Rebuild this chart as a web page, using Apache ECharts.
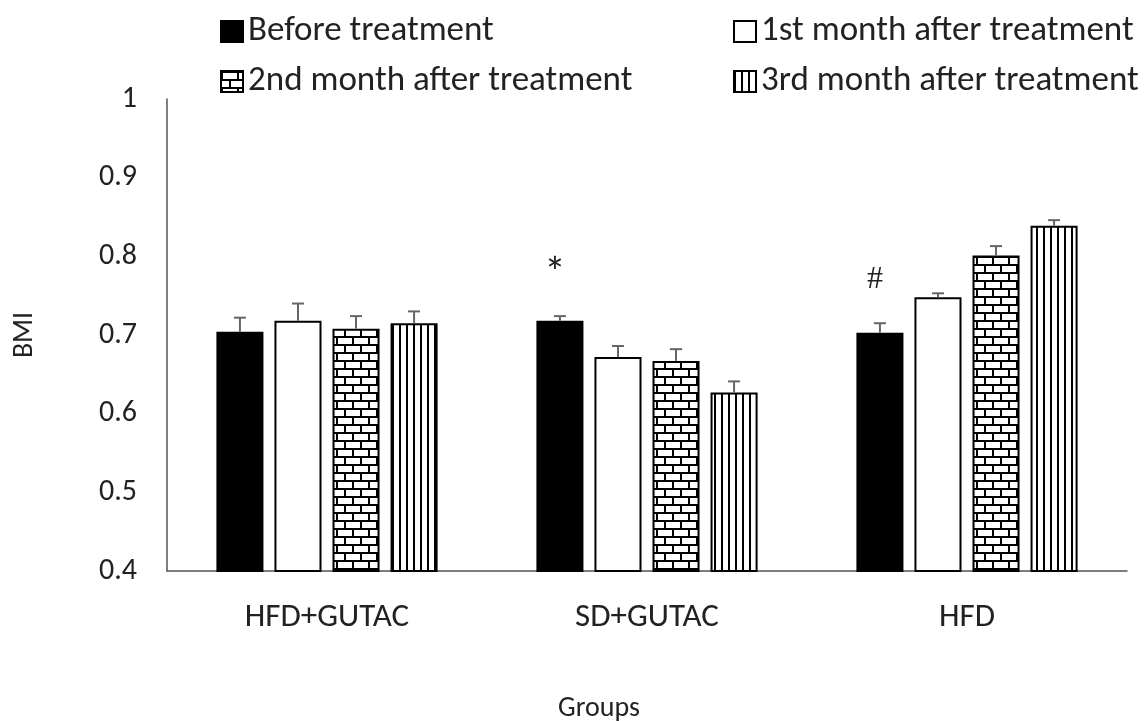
<!DOCTYPE html>
<html>
<head>
<meta charset="utf-8">
<title>BMI by group</title>
<script src="https://cdn.jsdelivr.net/npm/echarts@6/dist/echarts.min.js"></script>
<style>
    html, body { margin: 0; padding: 0; background: #fff; }
    #chart { width: 1144px; height: 721px; }
</style>
</head>
<body>
<div id="chart"></div>
<script>
    // Data
    const groups = ['HFD+GUTAC', 'SD+GUTAC', 'HFD'];
    const seriesNames = ['Before treatment', '1st month after treatment', '2nd month after treatment', '3rd month after treatment'];
    const beforeVals = [0.704, 0.718, 0.703];
    const month1Vals = [0.718, 0.672, 0.748];
    const month2Vals = [0.708, 0.667, 0.801];
    const month3Vals = [0.715, 0.627, 0.839];
    const beforeErr = [0.018, 0.006, 0.012];
    const month1Err = [0.022, 0.014, 0.005];
    const month2Err = [0.016, 0.015, 0.012];
    const month3Err = [0.015, 0.014, 0.007];
    const markText = ['', '*', '#'];
    const markY = [null, 0.775, 0.77];
    const yTicks = [0.4, 0.5, 0.6, 0.7, 0.8, 0.9, 1];

    const BAR_RATIO = 0.147;
    const BAR_GAP = 0.234;
    const FONT = "Carlito, 'Open Sans', sans-serif";

    /**
     * Brick fill like the spreadsheet pattern
     */
    function brickPattern() {
        const c = document.createElement('canvas');
        c.width = 16; c.height = 16;
        const ctx = c.getContext('2d');
        ctx.fillStyle = '#fff';
        ctx.fillRect(0, 0, 16, 16);
        ctx.fillStyle = '#000';
        ctx.fillRect(0, 0, 16, 2);
        ctx.fillRect(0, 8, 16, 2);
        ctx.fillRect(0, 2, 2, 6);
        ctx.fillRect(8, 10, 2, 6);
        return c;
    }

    /**
     * Vertical stripes fill
     */
    function stripePattern() {
        const c = document.createElement('canvas');
        c.width = 7; c.height = 4;
        const ctx = c.getContext('2d');
        ctx.fillStyle = '#fff';
        ctx.fillRect(0, 0, 7, 4);
        ctx.fillStyle = '#000';
        ctx.fillRect(0, 0, 2, 4);
        return c;
    }

    const fills = [
        '#000',
        '#fff',
        { image: brickPattern(), repeat: 'repeat' },
        { image: stripePattern(), repeat: 'repeat' }
    ];
    const allVals = [beforeVals, month1Vals, month2Vals, month3Vals];
    const allErr = [beforeErr, month1Err, month2Err, month3Err];

    // error bar rows: [category, series, value, err]
    const errData = [];
    allVals.forEach((vals, s) => {
        vals.forEach((v, i) => errData.push([i, s, v, allErr[s][i]]));
    });
    const markData = [];
    markText.forEach((t, i) => { if (t) markData.push([i, markY[i], t]); });

    function barOffset(api, s) {
        const band = api.size([1, 0])[0];
        const w = band * BAR_RATIO;
        return (s - 1.5) * w * (1 + BAR_GAP);
    }

    function renderErr(params, api) {
        const cat = api.value(0);
        const s = api.value(1);
        const v = api.value(2);
        const e = api.value(3);
        const base = api.coord([cat, v]);
        const top = api.coord([cat, v + e]);
        const x = base[0] + barOffset(api, s);
        const style = { stroke: '#666', lineWidth: 2 };
        return {
            type: 'group',
            children: [
                { type: 'line', shape: { x1: x, y1: base[1], x2: x, y2: top[1] }, style: style },
                { type: 'line', shape: { x1: x - 6, y1: top[1], x2: x + 6, y2: top[1] }, style: style }
            ]
        };
    }

    function renderMark(params, api) {
        const p = api.coord([api.value(0), api.value(1)]);
        const t = markData[params.dataIndex][2];
        const star = t === '*';
        return {
            type: 'text',
            x: p[0] + barOffset(api, 0) - 5,
            y: p[1],
            style: {
                text: t,
                fontSize: star ? 44 : 32,
                fontFamily: star ? FONT : "'Liberation Serif', serif",
                fill: '#222',
                align: 'center',
                verticalAlign: 'middle'
            }
        };
    }

    const chart = echarts.init(document.getElementById('chart'), null, { renderer: 'canvas' });

    const barSeries = seriesNames.map((name, s) => ({
        name: name,
        type: 'bar',
        data: allVals[s],
        barWidth: (BAR_RATIO * 100) + '%',
        barGap: (BAR_GAP * 100) + '%',
        itemStyle: {
            color: fills[s],
            borderColor: '#000',
            borderWidth: 2
        },
        emphasis: { disabled: true }
    }));

    const legendText = { fontSize: 35, lineHeight: 35, fontFamily: FONT, color: '#222', padding: [0, 0, 0, 0] };

    const option = {
        animation: false,
        backgroundColor: '#fff',
        legend: [{
            data: [seriesNames[0], seriesNames[2]],
            orient: 'vertical',
            left: 215,
            top: 9,
            itemWidth: 22,
            itemHeight: 21,
            itemGap: 15,
            icon: 'rect',
            selectedMode: false,
            textStyle: legendText
        }, {
            data: [seriesNames[1], seriesNames[3]],
            orient: 'vertical',
            left: 728,
            top: 9,
            itemWidth: 22,
            itemHeight: 21,
            itemGap: 15,
            icon: 'rect',
            selectedMode: false,
            textStyle: legendText
        }],
        grid: { left: 167, right: 17, top: 99, bottom: 150, containLabel: false, outerBoundsMode: 'none' },
        xAxis: {
            type: 'category',
            data: groups,
            name: 'Groups',
            nameLocation: 'middle',
            nameGap: 124,
            nameTextStyle: { fontSize: 28, fontFamily: FONT, color: '#222', padding: [0, 96, 0, 0] },
            axisLine: { lineStyle: { color: '#555', width: 1.5 } },
            axisTick: { show: false },
            axisLabel: { fontSize: 33, fontFamily: FONT, color: '#222', margin: 30 }
        },
        yAxis: {
            type: 'value',
            min: yTicks[0],
            max: yTicks[yTicks.length - 1],
            interval: 0.1,
            name: 'BMI',
            nameLocation: 'middle',
            nameRotate: 90,
            nameGap: 128,
            nameTextStyle: { fontSize: 28, fontFamily: FONT, color: '#222' },
            axisLine: { show: true, lineStyle: { color: '#555', width: 1.5 } },
            axisTick: { show: false },
            splitLine: { show: false },
            axisLabel: {
                fontSize: 30,
                fontFamily: FONT,
                color: '#222',
                margin: 30,
                formatter: v => String(Math.round(v * 10) / 10)
            }
        },
        series: barSeries.concat([{
            type: 'custom',
            name: 'error',
            renderItem: renderErr,
            data: errData,
            encode: { x: 0, y: 2 },
            z: 3,
            silent: true
        }, {
            type: 'custom',
            name: 'marks',
            renderItem: renderMark,
            data: markData.map(d => [d[0], d[1]]),
            encode: { x: 0, y: 1 },
            z: 3,
            silent: true
        }])
    };

    chart.setOption(option);
</script>
</body>
</html>
